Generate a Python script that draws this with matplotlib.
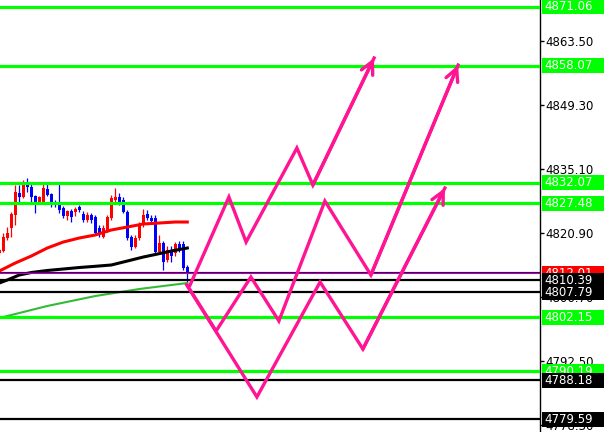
import numpy as np
import matplotlib
matplotlib.use("Agg")
import matplotlib.pyplot as plt
from matplotlib.patches import Rectangle
from matplotlib.transforms import blended_transform_factory

# candles (bar -1 is the partly cut one at the left edge)
opens = [4816.45, 4816.89, 4819.78, 4822.00, 4824.88, 4829.77, 4828.88, 4831.77, 4831.10, 4829.10,
         4827.77, 4827.77, 4830.66, 4829.55, 4827.55, 4827.10, 4826.44, 4824.66, 4825.77, 4825.55,
         4826.66, 4825.11, 4823.77, 4824.88, 4824.44, 4822.00, 4820.00, 4821.55, 4824.22, 4828.21,
         4828.88, 4828.21, 4825.55, 4820.00, 4817.78, 4819.78, 4822.66, 4825.11, 4824.22, 4824.22,
         4816.67, 4818.67, 4814.90, 4817.11, 4816.45, 4818.45, 4818.45, 4813.34]
closes = [4817.11, 4820.00, 4820.89, 4825.11, 4829.99, 4828.88, 4831.99, 4831.10, 4828.88, 4827.77,
          4828.88, 4830.88, 4829.32, 4827.77, 4827.10, 4825.99, 4824.66, 4825.77, 4824.44, 4826.22,
          4825.99, 4823.77, 4824.88, 4823.77, 4820.89, 4820.89, 4822.00, 4824.44, 4828.66, 4828.88,
          4827.77, 4825.55, 4819.78, 4817.78, 4819.78, 4822.89, 4824.88, 4824.22, 4823.55, 4816.67,
          4818.67, 4814.45, 4817.11, 4815.78, 4818.45, 4817.11, 4813.12, 4811.79]
highs = [4817.56, 4820.89, 4822.22, 4825.55, 4831.54, 4831.54, 4832.65, 4833.10, 4832.21, 4829.32,
         4829.10, 4831.99, 4831.99, 4829.77, 4828.21, 4831.99, 4826.88, 4825.99, 4826.22, 4826.66,
         4827.10, 4825.77, 4825.55, 4825.33, 4824.88, 4822.66, 4822.66, 4824.88, 4829.32, 4830.88,
         4829.77, 4828.88, 4825.99, 4820.44, 4820.44, 4823.33, 4826.22, 4825.99, 4824.88, 4824.88,
         4820.44, 4819.11, 4818.00, 4818.00, 4818.89, 4819.11, 4819.11, 4813.78]
lows = [4816.01, 4816.67, 4819.33, 4820.00, 4822.66, 4827.77, 4828.66, 4829.99, 4827.77, 4825.33,
        4827.55, 4827.55, 4829.10, 4826.66, 4826.66, 4825.33, 4824.22, 4823.77, 4823.33, 4824.66,
        4825.55, 4823.33, 4823.33, 4823.11, 4820.44, 4820.00, 4819.78, 4821.11, 4823.77, 4827.55,
        4827.10, 4825.33, 4819.33, 4817.11, 4817.56, 4819.33, 4822.22, 4823.77, 4823.11, 4816.23,
        4816.23, 4812.68, 4814.45, 4814.45, 4815.78, 4816.67, 4812.68, 4809.35]

# moving averages, sampled at bar indices
red_ma_bars = [-1, 3, 7, 11, 15, 19, 23, 27, 31, 35, 39, 43, 46]
red_ma = [4812.45, 4814.23, 4815.78, 4817.56, 4818.89, 4819.78, 4820.45, 4821.56, 4822.22,
          4822.89, 4823.11, 4823.33, 4823.33]
black_ma_bars = [-1, 1, 4, 7, 11, 15, 19, 23, 27, 31, 35, 38, 42, 46]
black_ma = [4809.79, 4810.46, 4811.57, 4812.12, 4812.57, 4812.90, 4813.23, 4813.50, 4813.79,
            4814.67, 4815.56, 4816.12, 4816.89, 4817.56]
green_ma_bars = [-1, 11, 23, 34, 46]
green_ma = [4802.02, 4804.69, 4806.90, 4808.46, 4809.79]

# horizontal levels
green_levels = [4871.06, 4858.07, 4832.07, 4827.48, 4802.15, 4790.19]
black_levels = [4810.39, 4807.79, 4788.18, 4779.59]
red_level = 4812.01
bid_level = 4812.17
y_ticks = [4863.50, 4849.30, 4835.10, 4820.90, 4806.70, 4792.50, 4778.30]

# projected zigzags (bar index, price)
path_a_x = [46.7, 56.4, 60.7, 73.4, 77.4, 92.7]
path_a_y = [4809.35, 4828.88, 4818.89, 4839.76, 4831.54, 4859.74]
path_b_x = [45.9, 53.2, 61.9, 68.9, 80.4, 91.9, 113.7]
path_b_y = [4809.35, 4799.14, 4811.12, 4801.36, 4827.99, 4811.57, 4858.18]
path_c_x = [45.9, 63.4, 79.2, 89.9, 110.4]
path_c_y = [4809.35, 4784.49, 4810.01, 4795.14, 4830.88]

PINK = "#ff1493"
LIME = "#00ff00"

fig = plt.figure(figsize=(6.16, 4.32), dpi=100)
ax = fig.add_axes([0.0, 0.0, 540 / 616, 1.0])
ax.set_xlim(-0.825, 134.175)
ax.set_ylim(4776.72, 4872.61)

# candles
bars = np.arange(len(opens)) - 1
for x, o, c, h, l in zip(bars, opens, closes, highs, lows):
    col = "#ff0000" if c >= o else "#0000ff"
    ax.plot([x, x], [l, h], color=col, lw=0.9, zorder=2, solid_capstyle="butt")
    body = max(abs(c - o), 0.3)
    ax.add_patch(Rectangle((x - 0.36, min(o, c)), 0.72, body, color=col, lw=0, zorder=2))

# moving averages
ax.plot(red_ma_bars, red_ma, color="#ff0000", lw=2.2, zorder=3)
ax.plot(black_ma_bars, black_ma, color="#000000", lw=2.2, zorder=3)
ax.plot(green_ma_bars, green_ma, color="#33bb33", lw=1.5, zorder=3)

# levels
for lv in green_levels:
    ax.axhline(lv, color=LIME, lw=2.3, zorder=4)
for lv in black_levels:
    ax.axhline(lv, color="black", lw=1.6, zorder=4)
ax.axhline(red_level, color="#ff0000", lw=1.5, zorder=4)
ax.axhline(bid_level, color="#0000ff", lw=0.8, zorder=4)

# zigzag projections
for px, py in [(path_a_x, path_a_y), (path_b_x, path_b_y), (path_c_x, path_c_y)]:
    ax.plot(px, py, color=PINK, lw=2.4, zorder=5, solid_joinstyle="miter")
    ax.annotate("", xy=(px[-1], py[-1]), xytext=(px[-2], py[-2]),
                arrowprops=dict(arrowstyle="->,head_length=0.9,head_width=0.45",
                                color=PINK, lw=2.4, shrinkA=0, shrinkB=0),
                zorder=5)

# right price axis
ax.yaxis.tick_right()
ax.set_yticks(y_ticks)
ax.set_yticklabels([f"{t:.2f}" for t in y_ticks])
ax.tick_params(axis="y", length=3, width=1, pad=1, labelsize=8.5, colors="black")
ax.set_xticks([])
for side in ["top", "left", "bottom"]:
    ax.spines[side].set_visible(False)
ax.spines["right"].set_linewidth(1)

# price labels on the axis, each later label drawn over the earlier ones
trans = blended_transform_factory(ax.transAxes, ax.transData)
box_h = 15 / 4.505
layer = [6]


def price_label(value, fc):
    z = layer[0]
    ax.add_patch(Rectangle((1.003, value - box_h / 2), 0.115, box_h, transform=trans,
                           facecolor=fc, edgecolor="none", clip_on=False, zorder=z))
    ax.text(1.008, value, f"{value:.2f}", transform=trans, color="white", fontsize=8.5,
            va="center", ha="left", clip_on=False, zorder=z + 0.5)
    layer[0] += 1


for lv in green_levels:
    price_label(lv, LIME)
price_label(red_level, "#ff0000")
for lv in black_levels:
    price_label(lv, "black")

plt.savefig("out.png", dpi=100)
plt.close()
